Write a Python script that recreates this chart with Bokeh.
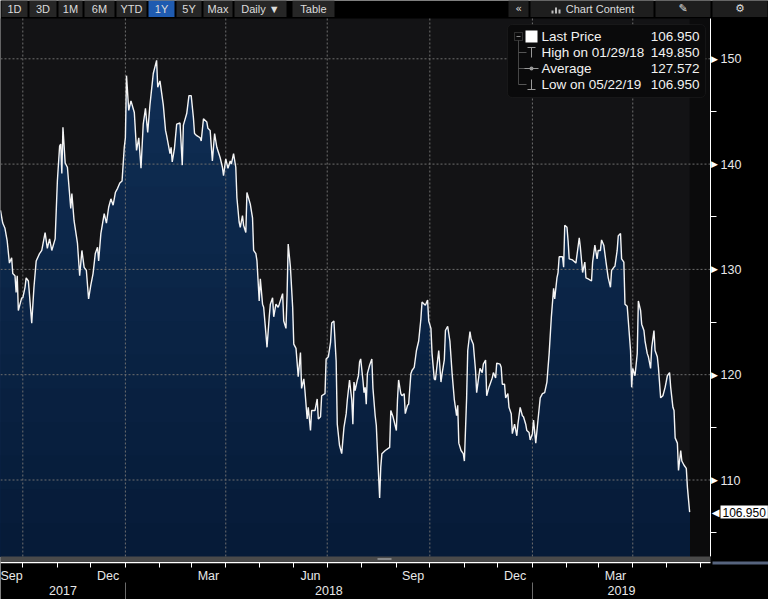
import datetime as dt
import numpy as np
from bokeh.plotting import figure
from bokeh.models import LinearAxis, FixedTicker, Range1d, BoxAnnotation, Label
from bokeh.embed import file_html
from bokeh.resources import INLINE

# ---------------- data ----------------
START = dt.date(2017, 9, 11)          # day 0 of the series

days = [0, 2, 4, 6, 8, 10, 11, 13, 14, 15, 16, 19, 20, 22, 23, 25, 28, 30, 32, 35, 37, 40, 42, 44, 46, 49, 51, 53, 54, 55,
        56, 58, 60, 63, 64, 66, 69, 71, 73, 75, 77, 79, 81, 83, 85, 87, 88, 90, 93, 95, 97, 99, 101, 103, 105, 107, 109, 111, 112, 113,
        115, 117, 120, 122, 124, 126, 128, 130, 132, 134, 136, 137, 140, 141, 143, 146, 148, 149, 152, 153, 154, 156, 158, 161,
        163, 164, 167, 169, 171, 173, 174, 176, 179, 180, 182, 185, 186, 188, 190, 192, 194, 197, 199, 200, 202, 204, 206, 207, 209, 211,
        212, 214, 215, 217, 218, 220, 221, 224, 226, 227, 229, 230, 231, 232, 233, 235, 236, 238, 239, 241, 242, 244, 245, 247, 249, 250,
        253, 254, 256, 257, 258, 260, 262, 263, 265, 267, 269, 270, 272, 273, 275, 276, 278, 279, 282, 284, 285, 287, 288, 291, 292, 294,
        296, 297, 299, 301, 302, 304,
        306, 308, 310, 311, 313, 315, 316, 317, 318, 320, 321, 322, 323, 325, 326, 327, 328, 329, 331, 333, 334, 336, 337, 338, 340, 341,
        342, 345, 349, 350, 352, 355, 356, 357, 359, 360, 362, 363, 365, 366, 368, 369, 371, 373, 375, 377, 378, 380, 381, 383, 384, 386,
        387, 389, 390, 392, 393, 395, 396, 398, 399, 401, 403, 405, 407, 409, 410, 411, 413, 415, 416, 418, 419, 421, 422, 424, 426, 427,
        429, 430, 432, 433, 435, 436, 438, 439, 441, 442, 444, 445, 448, 449, 450, 452, 453, 455, 456, 458, 459, 461, 463, 464, 466, 468,
        469, 471, 472, 474,
        475, 477, 478, 480, 482, 484, 486, 488, 490, 492, 494, 496, 497, 499, 500, 501, 504, 505, 506, 508, 509, 510, 513, 514, 516, 519,
        520, 522, 524, 525, 527, 530, 531, 533, 535, 536, 538, 539, 541, 543, 545, 547, 548, 550, 551, 553, 554, 556, 557, 559, 560, 562,
        563, 565, 566, 567, 569, 571, 572, 574, 575, 577, 578, 580, 581, 583, 584, 586, 587, 589, 590, 592, 594, 596, 598, 600, 601, 603,
        604, 605, 607, 608, 610, 611, 613, 615, 616, 618]

price = [135.6, 134.4, 133.9, 132.7, 130.6, 131.1, 129.6, 129.4, 127.8, 129.4, 126.1, 127.3, 127.3, 128.3, 129.2, 128.9, 124.9, 128.3,
         130.8, 131.5, 131.8, 133.5, 132.0, 132.9, 131.8, 132.9, 138.4, 141.7, 141.9, 139.1, 143.5, 140.1, 139.7, 135.8, 137.2, 134.6,
         132.5, 129.4, 131.8, 130.2, 129.9, 127.2, 128.5, 129.6, 131.5, 132.1, 130.8, 133.4, 135.3, 134.4, 135.9, 136.7, 136.1, 137.3,
         137.7, 138.2, 138.4, 141.6, 142.5, 148.4, 145.1, 146.0, 144.9, 141.3, 142.5, 139.6, 143.8, 145.3, 143.0, 145.6, 147.6, 148.6,
         149.85, 147.3, 147.9, 145.6, 143.2, 142.7, 141.0, 141.6, 140.2, 141.5, 143.8, 143.9,
         139.9, 143.7, 144.8, 146.5, 146.5, 144.4, 142.9, 142.7, 142.5, 142.2, 144.3, 144.0, 143.4, 143.2, 140.3, 142.9, 141.6, 140.6,
         139.7, 138.9, 140.5, 139.6, 140.3, 140.0, 141.0, 139.7, 136.8, 134.5, 134.0, 135.1, 134.2, 133.5, 137.3, 136.2, 134.9, 131.8,
         131.5, 130.8, 128.9, 127.0, 129.1, 126.7, 126.4, 123.9, 122.6, 125.5, 126.7, 127.3, 125.5, 126.7, 126.4, 126.7, 127.7, 125.1,
         124.4, 127.7, 132.4, 130.2, 126.4, 122.9, 122.5, 119.8, 122.1, 118.7, 119.6, 118.5, 115.8, 116.9, 114.7, 116.6, 116.6, 117.7,
         115.8, 116.0, 118.0, 118.2, 121.5, 121.7, 123.1, 124.9, 125.1, 121.3, 115.3, 113.3,
         112.5, 115.0, 116.3, 117.6, 119.5, 117.6, 115.3, 119.3, 118.5, 119.5, 119.9, 121.2, 121.5, 119.5, 118.3, 118.8, 117.2, 120.1,
         120.9, 121.5, 118.7, 116.1, 115.2, 112.8, 108.3, 111.2, 112.5, 112.8, 113.1, 116.6, 116.0, 114.7, 117.6, 119.5, 118.2, 118.0,
         118.2, 116.3, 117.1, 117.2, 120.1, 120.4, 120.7, 122.3, 123.2, 125.3, 126.9, 126.7, 126.6, 127.1, 125.1, 124.4, 122.0, 119.6,
         119.5, 121.4, 122.3, 119.3, 120.1, 121.4, 124.2, 124.6, 123.2, 120.1, 117.6, 116.1, 117.1, 113.5, 112.8, 112.5, 111.8, 117.8,
         122.3, 124.1, 123.4, 122.9, 120.4, 118.3, 119.9, 120.6, 120.2, 121.0, 121.4, 118.0, 118.8, 119.1, 119.7, 120.2, 119.7, 121.1,
         121.0, 120.7, 119.1, 119.1, 117.8, 118.2, 116.9, 116.3, 114.4, 115.3, 114.2, 115.3, 116.9, 116.1, 116.0, 115.3, 114.7, 114.5,
         113.8, 114.4, 115.7, 113.5, 115.7, 117.8, 118.2, 118.3, 119.3, 122.0, 125.5, 128.2, 127.2, 129.2, 129.7, 131.2, 131.2, 130.2,
         134.2, 134.0, 132.7, 131.0, 130.9, 130.8, 130.6, 133.0, 132.1, 129.7, 130.7, 129.2, 129.1, 128.9, 130.7, 132.3, 131.0, 131.8,
         131.8, 132.8, 132.3, 130.7, 129.2, 128.3, 129.9, 130.2, 130.3, 131.8, 133.2, 133.4, 131.0, 130.7, 126.7, 126.5, 125.1, 122.3,
         118.8, 120.6, 119.9, 122.0, 127.0, 126.1, 124.8, 124.2, 123.2, 122.0, 121.7, 120.6, 122.6, 124.2, 122.3, 121.7, 120.7, 117.8,
         118.0, 118.8, 119.9, 120.2, 118.8, 116.9, 116.6, 114.0, 113.5, 110.9, 112.8, 111.8, 111.4, 111.1, 109.3, 106.95]

average_price = 127.572

y_ticks = [110, 120, 130, 140, 150]
y_minor_ticks = [105, 115, 125, 135, 145]

month_label_months = ["2017-09", "2017-12", "2018-03", "2018-06", "2018-09", "2018-12", "2019-03"]
month_label_text = ["Sep", "Dec", "Mar", "Jun", "Sep", "Dec", "Mar"]
month_starts = ["2017-10", "2017-11", "2017-12", "2018-01", "2018-02", "2018-03", "2018-04", "2018-05", "2018-06",
                "2018-07", "2018-08", "2018-09", "2018-10", "2018-11", "2018-12", "2019-01", "2019-02", "2019-03",
                "2019-04", "2019-05", "2019-06"]
grid_months = ["2017-10", "2018-01", "2018-04", "2018-07", "2018-10", "2019-01", "2019-04"]
year_labels = ["2017", "2018", "2019"]

toolbar_left = ["1D", "3D", "1M", "6M", "YTD", "1Y", "5Y", "Max", "Daily \u25BC", "Table"]
toolbar_right = ["\u00AB", "Chart Content", "\u270E", "\u2699"]

# ---------------- layout helpers (pixel based) ----------------
W, H = 768, 599
REF_Y150, REF_Y110 = 58.3, 479.5      # pixel rows of the 150 and 110 grid lines
REF_X_AXIS, DAY_AT_AXIS = 710, 636.7  # right edge of the plotting area


def yv(py):
    return 150 + (REF_Y150 - py) * 40 / (REF_Y110 - REF_Y150)


def xd(px):
    return px * DAY_AT_AXIS / REF_X_AXIS


def sx(px):
    return px


def sy(py):
    return H - py


def day_of(ym, d=1):
    y, m = map(int, ym.split("-"))
    return (dt.date(y, m, d) - START).days


def next_month(ym):
    y, m = map(int, ym.split("-"))
    return f"{y + (m == 12)}-{1 if m == 12 else m + 1:02d}"


FONT = "Liberation Sans"
X_END = xd(REF_X_AXIS)
Y_BASE, Y_TOP = yv(556), yv(18)

p = figure(width=W, height=H, x_range=Range1d(0, xd(W)), y_range=Range1d(yv(H), yv(0)),
           output_backend="svg", toolbar_location=None, x_axis_location=None, y_axis_location=None,
           min_border=0, background_fill_color="#000000", border_fill_color="#000000", outline_line_color=None)
p.xgrid.visible = False
p.ygrid.visible = False

# plotting area background and the empty part after the last point
p.add_layout(BoxAnnotation(left=0, right=X_END, bottom=Y_BASE, top=Y_TOP, fill_color="#131315",
                           fill_alpha=1, line_color=None, level="underlay"))
p.add_layout(BoxAnnotation(left=days[-1], right=X_END, bottom=Y_BASE, top=Y_TOP, fill_color="#0b0b0c",
                           fill_alpha=1, line_color=None, level="underlay"))

# gradient area: cumulative caps, from top colour to bottom colour
ys = np.array(price, dtype=float)
c_top = np.array([16, 47, 86])
c_bot = np.array([6, 27, 56])
N = 16
caps = np.linspace(Y_TOP, Y_BASE, N + 1)[:-1]
for i, cap in enumerate(caps):
    t = i / (N - 1)
    col = c_top * (1 - t) + c_bot * t
    color = "#%02x%02x%02x" % tuple(int(round(v)) for v in col)
    p.varea(x=days, y1=Y_BASE, y2=np.minimum(ys, cap), fill_color=color, fill_alpha=1)

# dotted grid lines
quarter_days = [day_of(m) for m in grid_months]
p.segment(x0=0, x1=X_END, y0=y_ticks, y1=y_ticks, line_color="#6e6e6e", line_dash="2 2", line_width=1)
p.segment(x0=quarter_days, x1=quarter_days, y0=Y_BASE, y1=Y_TOP, line_color="#6e6e6e", line_dash="2 2", line_width=1)

p.line(days, price, line_color="#f4f4f4", line_width=1.4)

# right axis: line + minor ticks, then labels
r1 = LinearAxis(fixed_location=X_END, bounds=(Y_BASE, Y_TOP),
                ticker=FixedTicker(ticks=y_minor_ticks), major_label_overrides={t: "" for t in y_minor_ticks},
                axis_line_color="#ffffff", axis_line_width=1, major_tick_out=6, major_tick_in=0,
                major_tick_line_color="#ffffff", minor_tick_line_color=None)
p.add_layout(r1, "right")
r2 = LinearAxis(fixed_location=X_END, ticker=FixedTicker(ticks=y_ticks),
                major_label_overrides={t: str(t) for t in y_ticks},
                axis_line_color=None, major_tick_line_color=None, minor_tick_line_color=None,
                major_tick_out=0, major_tick_in=0, major_label_standoff=10,
                major_label_text_color="#e8e8e8", major_label_text_font=FONT, major_label_text_font_size="12.5px")
p.add_layout(r2, "right")
for t in y_ticks:   # arrow-shaped major tick marks
    p.add_layout(Label(x=sx(710.5), y=t, x_units="screen", y_units="data", text="\u25B6",
                       text_font="DejaVu Sans", text_font_size="9px", text_color="#ffffff",
                       text_align="left", text_baseline="middle"))

# bottom axis: month ticks, then month labels
Y_AXIS = yv(562)
month_days = [day_of(m) for m in month_starts]
a1 = LinearAxis(fixed_location=Y_AXIS, bounds=(0, X_END), ticker=FixedTicker(ticks=month_days),
                major_label_overrides={d: "" for d in month_days},
                axis_line_color="#ffffff", axis_line_width=1.5, major_tick_out=5, major_tick_in=0,
                major_tick_line_color="#ffffff", minor_tick_line_color=None)
p.add_layout(a1, "below")
label_pos = []
for ym in month_label_months:
    a = max(0, day_of(ym))
    b = min(X_END, day_of(next_month(ym)))
    label_pos.append((a + b) / 2)
a2 = LinearAxis(fixed_location=Y_AXIS, ticker=FixedTicker(ticks=label_pos),
                major_label_overrides={pos: txt for pos, txt in zip(label_pos, month_label_text)},
                axis_line_color=None, major_tick_line_color=None, minor_tick_line_color=None,
                major_tick_out=0, major_tick_in=0, major_label_standoff=6,
                major_label_text_color="#e8e8e8", major_label_text_font=FONT, major_label_text_font_size="12.5px")
p.add_layout(a2, "below")

# bottom axis: year separators, then year labels
year_pos, year_starts = [], []
for yl in year_labels:
    a = (dt.date(int(yl), 1, 1) - START).days
    b = (dt.date(int(yl) + 1, 1, 1) - START).days
    if a > 0:
        year_starts.append(a)
    year_pos.append((max(0, a) + min(X_END, b)) / 2)
b1 = LinearAxis(fixed_location=yv(582), ticker=FixedTicker(ticks=year_starts),
                major_label_overrides={d: "" for d in year_starts},
                axis_line_color=None, major_tick_out=18, major_tick_in=0,
                major_tick_line_color="#6a6a6a", minor_tick_line_color=None)
p.add_layout(b1, "below")
b2 = LinearAxis(fixed_location=yv(585), ticker=FixedTicker(ticks=year_pos),
                major_label_overrides={pos: txt for pos, txt in zip(year_pos, year_labels)},
                axis_line_color=None, major_tick_line_color=None, minor_tick_line_color=None,
                major_tick_out=0, major_tick_in=0, major_label_standoff=0,
                major_label_text_color="#e8e8e8", major_label_text_font=FONT, major_label_text_font_size="12.5px")
p.add_layout(b2, "below")


def sbox(x0, x1, y0, y1, color, line=None, radius=0):
    p.add_layout(BoxAnnotation(left=sx(x0), right=sx(x1), top=sy(y0), bottom=sy(y1),
                               left_units="screen", right_units="screen", top_units="screen", bottom_units="screen",
                               fill_color=color, fill_alpha=1, line_color=line, border_radius=radius))


def stext(x, y, text, size="12px", color="#e8e8e8", align="left", font=FONT):
    p.add_layout(Label(x=sx(x), y=sy(y), x_units="screen", y_units="screen", text=text,
                       text_font=font, text_font_size=size, text_color=color,
                       text_align=align, text_baseline="middle"))


# scroll band at the bottom of the plotting area
sbox(0, 710, 556, 561, "#4a4a4a")
sbox(377, 391, 557.5, 559.5, "#8a8a8a")
sbox(712, 768, 561, 564, "#56647e")

# toolbar
left_boxes = [(1, 27), (29, 56), (58, 82), (84, 114), (116, 146), (148, 174), (176, 201), (203, 232), (234, 286), (292, 334)]
for (a, b), txt in zip(left_boxes, toolbar_left):
    sbox(a, b, 0, 16.5, "#1f5bb0" if txt == "1Y" else "#262626")
    stext((a + b) / 2, 8, txt, size="11px", color="#dcdcdc", align="center")
right_boxes = [(508, 528), (530, 653), (655, 710), (712, 767)]
for (a, b), txt in zip(right_boxes, toolbar_right):
    sbox(a, b, 0, 16.5, "#1e1e1e")
    stext((a + b) / 2 + (8 if txt == "Chart Content" else 0), 8, txt, size="11px", color="#dcdcdc",
          align="center", font="DejaVu Sans" if len(txt) == 1 else FONT)
# small chart icon in the "Chart Content" button
sbox(551, 553, 10, 13, "#bbbbbb")
sbox(554.5, 556.5, 7, 13, "#bbbbbb")
sbox(558, 560, 9, 13, "#bbbbbb")

# legend box
sbox(507, 705, 24, 97, "#0a0a0b", line="#333333", radius=5)
hi_i = int(np.argmax(ys))
lo_i = int(np.argmin(ys))
hi_date = START + dt.timedelta(days=days[hi_i])
lo_date = START + dt.timedelta(days=days[lo_i])
rows = [("Last Price", f"{price[-1]:.3f}"),
        ("High on " + hi_date.strftime("%m/%d/%y"), f"{price[hi_i]:.3f}"),
        ("Average", f"{average_price:.3f}"),
        ("Low on " + lo_date.strftime("%m/%d/%y"), f"{price[lo_i]:.3f}")]
row_y = [36, 52, 68, 84]
for (name, val), ry in zip(rows, row_y):
    stext(541, ry, name, size="13.5px", color="#f2f2f2")
    stext(699, ry, val, size="13.5px", color="#f2f2f2", align="right")
# legend icons / tree
sbox(514, 522, 32, 40, "#0a0a0b", line="#8a8a8a")
sbox(516, 520, 35.6, 36.4, "#8a8a8a")
sbox(525, 537, 30, 42, "#ffffff")
sbox(517.6, 518.4, 40, 84, "#555555")
for ry in row_y[1:]:
    sbox(518, 526, ry - 0.4, ry + 0.4, "#555555")
sbox(527, 535, 46.5, 47.5, "#999999")
sbox(530.5, 531.5, 46.5, 57, "#999999")
sbox(524, 538, 67.6, 68.4, "#999999")
sbox(529, 533, 66, 70, "#999999", radius=2)
sbox(530.5, 531.5, 79, 89.5, "#999999")
sbox(527, 535, 88.5, 89.5, "#999999")

# last price marker on the axis
p.add_layout(Label(x=sx(720), y=price[-1], x_units="screen", y_units="data", text=f"{price[-1]:.3f}",
                   text_font=FONT, text_font_size="12px", text_color="#000000",
                   text_align="left", text_baseline="middle",
                   background_fill_color="#ffffff", background_fill_alpha=1, padding=2))
p.add_layout(Label(x=sx(719), y=price[-1], x_units="screen", y_units="data", text="\u25C0",
                   text_font="DejaVu Sans", text_font_size="10px", text_color="#ffffff",
                   text_align="right", text_baseline="middle"))

open("out.html", "w").write(file_html(p, INLINE))
